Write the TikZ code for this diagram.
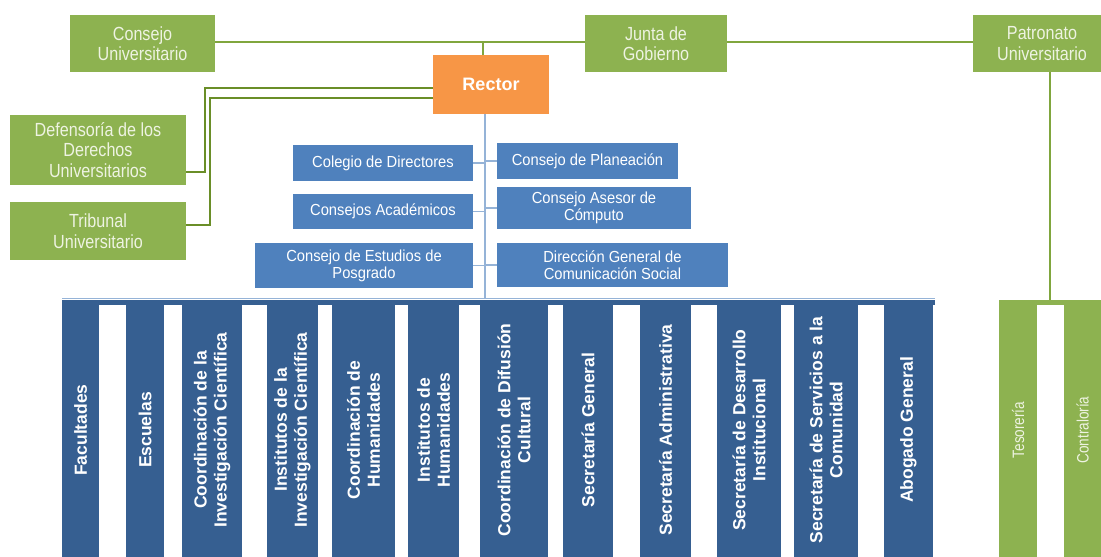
\documentclass[tikz,border=0pt]{standalone}
\usepackage{fontspec}
\setmainfont{Liberation Sans}
\newfontfamily\gfont[FakeStretch=0.85]{Liberation Sans}
\newfontfamily\gcfont[FakeStretch=0.82]{Liberation Sans}
\newfontfamily\bfont[FakeStretch=0.92]{Liberation Sans}
\definecolor{gfill}{RGB}{141,178,80}
\definecolor{gtext}{RGB}{238,243,226}
\definecolor{gline}{RGB}{128,166,62}
\definecolor{gdark}{RGB}{106,142,40}
\definecolor{ofill}{RGB}{247,150,70}
\definecolor{bfill}{RGB}{79,129,189}
\definecolor{dfill}{RGB}{54,95,145}
\definecolor{bline}{RGB}{149,179,215}
\begin{document}
\begin{tikzpicture}[x=1pt,y=-1pt,
  gbox/.style={fill=gfill,text=gtext,inner sep=0pt,align=center,font=\gfont\fontsize{19}{20.5}\selectfont},
  obox/.style={fill=ofill,text=white,inner sep=0pt,align=center,font=\fontsize{18}{22}\selectfont\bfseries},
  bluebox/.style={fill=bfill,text=white,inner sep=0pt,align=center,font=\bfont\fontsize{16}{17}\selectfont},
  dcol/.style={fill=dfill,text=white,inner sep=0pt,align=center,rotate=90,minimum width=260pt,font=\fontsize{17.5}{20}\selectfont\bfseries},
  gcol/.style={fill=gfill,text=gtext,inner sep=0pt,align=center,rotate=90,minimum width=260pt,font=\gcfont\fontsize{16.5}{18}\selectfont},
  gconn/.style={draw=gline,line width=2.2pt},
  dconn/.style={draw=gdark,line width=1.8pt},
  bconn/.style={draw=bline,line width=1.8pt}]
\useasboundingbox (0,0) rectangle (1101,557);
% top green boxes
\node[gbox,minimum width=145pt,minimum height=57pt] (cu) at (142.5,43.5) {Consejo\\Universitario};
\node[gbox,minimum width=142pt,minimum height=57pt] (jg) at (656,43.5) {Junta de\\Gobierno};
\node[gbox,minimum width=138pt,minimum height=57pt] (pu) at (1042,43.5) {Patronato\\Universitario};
% rector
\node[obox,minimum width=116pt,minimum height=59pt] (rector) at (491,84.5) {Rector};
% left green boxes
\node[gbox,minimum width=176pt,minimum height=70pt] (def) at (98,150) {Defensoría de los\\Derechos\\Universitarios};
\node[gbox,minimum width=176pt,minimum height=58pt] (tri) at (98,231) {Tribunal\\Universitario};
% blue boxes
\node[bluebox,minimum width=180pt,minimum height=36pt] (cd) at (383,163) {Colegio de Directores};
\node[bluebox,minimum width=180pt,minimum height=35pt] (ca) at (383,211.5) {Consejos Académicos};
\node[bluebox,minimum width=218pt,minimum height=45pt] (ce) at (364,265.5) {Consejo de Estudios de\\Posgrado};
\node[bluebox,minimum width=181pt,minimum height=36pt] (cp) at (587.5,161) {Consejo de Planeación};
\node[bluebox,minimum width=194pt,minimum height=42pt] (cc) at (594,208) {Consejo Asesor de\\Cómputo};
\node[bluebox,minimum width=231pt,minimum height=44pt] (dg) at (612.5,265) {Dirección General de\\Comunicación Social};
% connectors top
\coordinate (tj) at (483,42);
\coordinate (rb) at (485,114);
\coordinate (bt) at (485,299);
\draw[gconn] (cu.east |- tj) -- (jg.west |- tj);
\draw[gconn] (tj) -- (tj |- rector.north);
\draw[gconn] (jg.east |- tj) -- (pu.west |- tj);
% rector to left boxes
\draw[dconn] (def.east |- 0,172) -| (205,88) -- (rector.west |- 0,88);
\draw[dconn] (tri.east |- 0,225) -| (210,98) -- (rector.west |- 0,98);
% blue spine
\draw[bconn] (rb) -- (bt);
\draw[bconn] (cd.east) -- (cd.east -| rb);
\draw[bconn] (ca.east) -- (ca.east -| rb);
\draw[bconn] (ce.east) -- (ce.east -| rb);
\draw[bconn] (cp.west) -- (cp.west -| rb);
\draw[bconn] (cc.west) -- (cc.west -| rb);
\draw[bconn] (dg.west) -- (dg.west -| rb);
% bottom bar
\draw[bconn,line width=1pt] (62,298) -- (935,298);
\fill[dfill] (62,300) rectangle (935,305);
\node[dcol,minimum height=37pt] (c1) at (80.5,430) {Facultades};
\node[dcol,minimum height=38pt] (c2) at (145,430) {Escuelas};
\node[dcol,minimum height=60pt] (c3) at (212,430) {Coordinación de la\\Investigación Científica};
\node[dcol,minimum height=51pt] (c4) at (292.5,430) {Institutos de la\\Investigación Científica};
\node[dcol,minimum height=63pt] (c5) at (363.5,430) {Coordinación de\\Humanidades};
\node[dcol,minimum height=51pt] (c6) at (433.5,430) {Institutos de\\Humanidades};
\node[dcol,minimum height=68pt] (c7) at (514,430) {Coordinación de Difusión\\Cultural};
\node[dcol,minimum height=50pt] (c8) at (588,430) {Secretaría General};
\node[dcol,minimum height=51pt] (c9) at (665.5,430) {Secretaría Administrativa};
\node[dcol,minimum height=64pt] (c10) at (749,430) {Secretaría de Desarrollo\\Institucional};
\node[dcol,minimum height=64pt] (c11) at (826,430) {Secretaría de Servicios a la\\Comunidad};
\node[dcol,minimum height=49pt] (c12) at (908.5,430) {Abogado General};
% right green
\coordinate (pt) at (1050,300);
\draw[gconn,line width=1.8pt] (pu.south -| pt) -- (pt);
\fill[gfill] (999,300) rectangle (1101,305);
\node[gcol,minimum height=38pt] (tes) at (1018,430) {Tesorería};
\node[gcol,minimum height=37pt] (con) at (1082.5,430) {Contraloría};
\end{tikzpicture}
\end{document}
